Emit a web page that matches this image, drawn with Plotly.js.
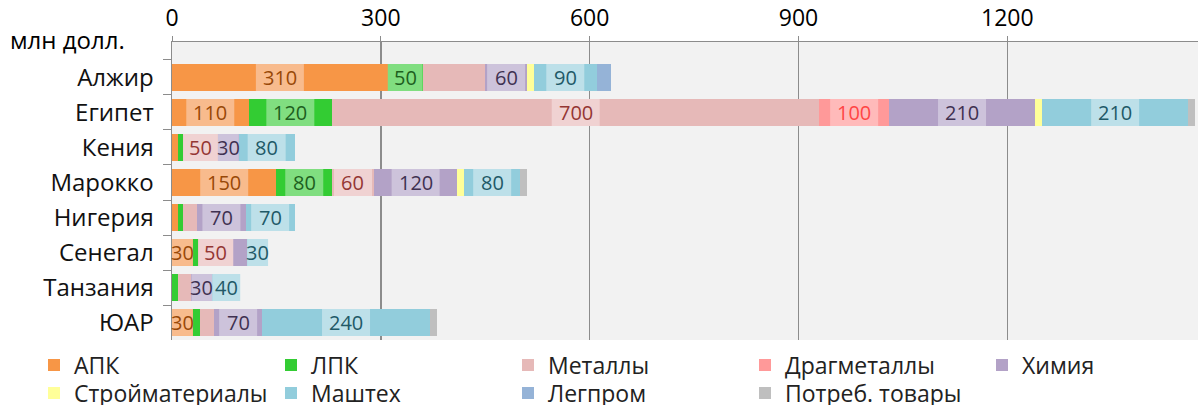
<!DOCTYPE html>
<html>
<head>
<meta charset="utf-8">
<script src="https://cdn.plot.ly/plotly-3.0.1.min.js"></script>
<style>html,body{margin:0;padding:0;background:#fff;}#chart{width:1198px;height:405px;}</style>
</head>
<body>
<div id="chart"></div>
<script>
var countries = ['Алжир', 'Египет', 'Кения', 'Марокко', 'Нигерия', 'Сенегал', 'Танзания', 'ЮАР'];
var seriesNames = ['АПК', 'ЛПК', 'Металлы', 'Драгметаллы', 'Химия', 'Стройматериалы', 'Маштех', 'Легпром', 'Потреб. товары'];

var apk      = [310, 110, 8, 150, 8, 30, 0, 30];
var lpk      = [50, 120, 8, 80, 8, 8, 8, 10];
var metally  = [90, 700, 50, 60, 20, 50, 20, 20];
var dragmet  = [0, 100, 0, 0, 0, 0, 0, 0];
var himiya   = [60, 210, 30, 120, 70, 20, 30, 70];
var stroy    = [10, 10, 0, 10, 0, 0, 0, 0];
var mashteh  = [90, 210, 80, 80, 70, 30, 40, 240];
var legprom  = [20, 0, 0, 0, 0, 0, 0, 0];
var potreb   = [0, 10, 0, 10, 0, 0, 0, 10];

// Data labels shown on the chart ('' = no label)
var lblApk     = ['310', '110', '', '150', '', '30', '', '30'];
var lblLpk     = ['50', '120', '', '80', '', '', '', ''];
var lblMetally = ['', '700', '50', '60', '', '50', '', ''];
var lblDragmet = ['', '100', '', '', '', '', '', ''];
var lblHimiya  = ['60', '210', '30', '120', '70', '', '30', '70'];
var lblMashteh = ['90', '210', '80', '80', '70', '30', '40', '240'];

var xTicks = [0, 300, 600, 900, 1200];
var xMax = 1474;

var seriesValues = [apk, lpk, metally, dragmet, himiya, stroy, mashteh, legprom, potreb];
var seriesLabels = [lblApk, lblLpk, lblMetally, lblDragmet, lblHimiya, null, lblMashteh, null, null];
var colors = ['#f79646', '#33cc33', '#e6b9b8', '#ff9999', '#b3a2c7', '#ffff99', '#92cddc', '#95b3d7', '#bfbfbf'];
var labelBg = ['#f8bb8d', '#80de80', '#f0d2d2', '#ffbaba', '#cdc3db', null, '#bde0e9', null, null];
var labelFg = ['#984807', '#1e5f1e', '#943634', '#ff4545', '#3f3151', null, '#215967', null, null];

var FONT = 'Open Sans, Noto Sans, sans-serif';
var W = 1198, H = 405;
var M = {l: 172, r: 0, t: 42, b: 65};
var plotW = W - M.l - M.r, plotH = H - M.t - M.b;
var BARGAP = 0.23;

var traces = [];
for (var s = 0; s < seriesValues.length; s++) {
  traces.push({
    type: 'bar',
    orientation: 'h',
    name: seriesNames[s],
    y: countries,
    x: seriesValues[s],
    marker: {color: colors[s], line: {width: 0}},
    legend: s < 5 ? 'legend' : 'legend2',
    hoverinfo: 'name+x'
  });
}

var annotations = [];
var shapes = [];
var pxPerUnit = plotW / xMax;
var cum = countries.map(function () { return 0; });
for (var s = 0; s < seriesValues.length; s++) {
  for (var i = 0; i < countries.length; i++) {
    var v = seriesValues[s][i];
    var lbls = seriesLabels[s];
    if (lbls && lbls[i]) {
      var boxW = Math.min(lbls[i].length * 10 + 18, v * pxPerUnit);
      var xc = cum[i] + v / 2;
      shapes.push({
        type: 'rect', layer: 'above',
        xref: 'x', xsizemode: 'pixel', xanchor: xc,
        x0: -boxW / 2, x1: boxW / 2,
        yref: 'y', y0: i - (1 - BARGAP) / 2, y1: i + (1 - BARGAP) / 2,
        fillcolor: labelBg[s], line: {width: 0}
      });
      annotations.push({
        xref: 'x', yref: 'y',
        x: xc, y: countries[i],
        text: lbls[i],
        showarrow: false,
        font: {family: FONT, size: 20, color: labelFg[s]},
        xanchor: 'center', yanchor: 'middle'
      });
    }
    cum[i] += v;
  }
}
annotations.push({
  xref: 'paper', yref: 'paper',
  x: -0.16, y: 1.01,
  xanchor: 'left', yanchor: 'middle',
  text: 'млн долл.',
  showarrow: false,
  font: {family: FONT, size: 24, color: '#000'}
});

var legendCommon = {
  orientation: 'h',
  x: (34 - M.l) / plotW,
  xanchor: 'left',
  yanchor: 'middle',
  entrywidth: 192,
  entrywidthmode: 'pixels',
  traceorder: 'normal',
  font: {family: FONT, size: 23, color: '#222'},
  bgcolor: 'rgba(0,0,0,0)',
  borderwidth: 0
};

var layout = {
  width: W, height: H,
  margin: {l: M.l, r: M.r, t: M.t, b: M.b, autoexpand: false},
  paper_bgcolor: '#ffffff',
  plot_bgcolor: '#f2f2f2',
  barmode: 'stack',
  bargap: BARGAP,
  showlegend: true,
  xaxis: {
    side: 'top',
    range: [0, xMax],
    tickvals: xTicks,
    ticktext: xTicks.map(String),
    showgrid: true,
    gridcolor: '#8c8c8c',
    gridwidth: 1.5,
    zeroline: false,
    showline: true,
    linecolor: '#8c8c8c',
    linewidth: 1.5,
    ticks: 'outside',
    ticklen: 5,
    tickcolor: '#8c8c8c',
    tickfont: {family: FONT, size: 23, color: '#000'},
    fixedrange: true
  },
  yaxis: {
    type: 'category',
    categoryorder: 'array',
    categoryarray: countries,
    range: [7.5, -1.014],
    showgrid: false,
    zeroline: false,
    showline: true,
    linecolor: '#8c8c8c',
    linewidth: 1.5,
    ticks: 'outside',
    tickson: 'boundaries',
    ticklen: 8,
    tickcolor: '#8c8c8c',
    ticklabelstandoff: 12,
    tickfont: {family: FONT, size: 24, color: '#111'},
    fixedrange: true
  },
  legend: Object.assign({}, legendCommon, {y: -(365 - (H - M.b)) / plotH}),
  legend2: Object.assign({}, legendCommon, {y: -(393 - (H - M.b)) / plotH}),
  shapes: shapes,
  annotations: annotations
};

Plotly.newPlot('chart', traces, layout, {displayModeBar: false, staticPlot: true});
</script>
</body>
</html>
